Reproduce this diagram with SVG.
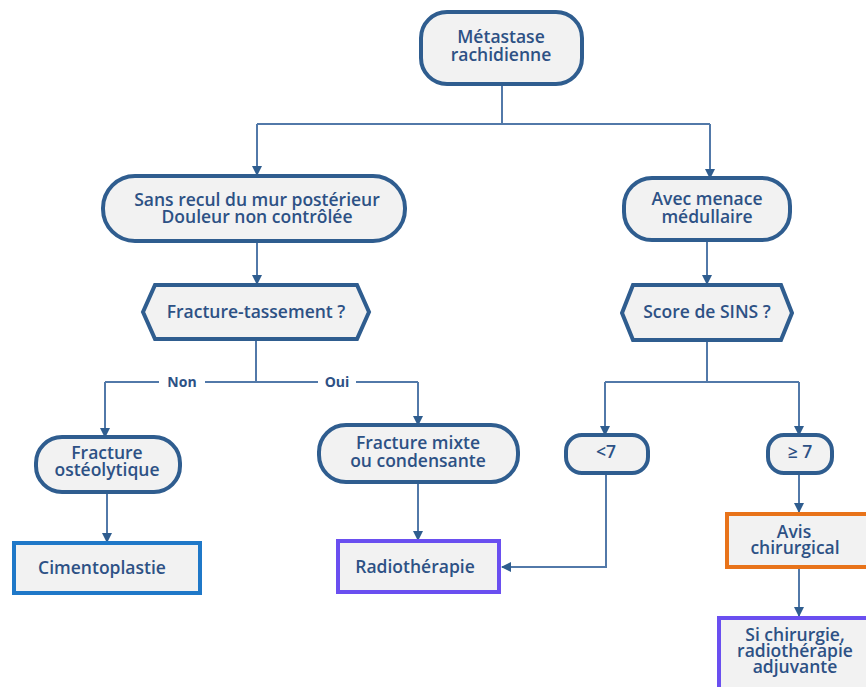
<svg xmlns="http://www.w3.org/2000/svg" width="866" height="687" viewBox="0 0 866 687">
<defs>
<marker id="arr" viewBox="0 0 10 10" refX="9" refY="5" markerWidth="10" markerHeight="10" markerUnits="userSpaceOnUse" orient="auto">
<path d="M0,0 L10,5 L0,10 Z" fill="#2f5d8f"/>
</marker>
<style>
.n{fill:#f2f2f2;stroke:#2f5d8f;stroke-width:4}
.t{font-family:"Open Sans","Liberation Sans",sans-serif;font-weight:600;font-size:17.5px;fill:#2d5185;text-anchor:middle}
.c{fill:none;stroke:#5279a9;stroke-width:2}
.ca{fill:none;stroke:#5279a9;stroke-width:2;marker-end:url(#arr)}
.lb{font-family:"Open Sans","Liberation Sans",sans-serif;font-weight:bold;font-size:14px;fill:#2d5185;text-anchor:middle}
</style>
</defs>
<rect width="866" height="687" fill="#ffffff"/>
<g id="connectors">
<path class="c" d="M502,85 V124 M257,124 H710"/>
<path class="ca" d="M257,124 V175"/>
<path class="ca" d="M710,124 V178"/>
<path class="ca" d="M257,242 V284"/>
<path class="ca" d="M707,240 V284"/>
<path class="c" d="M256,340 V382 M105,382 H418"/>
<path class="ca" d="M105,382 V437"/>
<path class="ca" d="M418,382 V425"/>
<path class="c" d="M707,341 V382 M605,382 H799"/>
<path class="ca" d="M605,382 V435"/>
<path class="ca" d="M799,382 V435"/>
<path class="ca" d="M107,492 V542"/>
<path class="ca" d="M418,482 V540"/>
<path class="ca" d="M606,473 V567 H502"/>
<path class="ca" d="M799,473 V512"/>
<path class="ca" d="M799,568 V616"/>
<rect x="159" y="373" width="46" height="18" fill="#ffffff"/>
<rect x="318" y="373" width="38" height="18" fill="#ffffff"/>
<text class="lb" x="182" y="387">Non</text>
<text class="lb" x="337" y="387">Oui</text>
</g>
<g id="n-metastase">
<rect class="n" x="421" y="12" width="161" height="72" rx="26"/>
<text class="t" x="501" y="43">Métastase</text>
<text class="t" x="501" y="61">rachidienne</text>
</g>
<g id="n-sansrecul">
<rect class="n" x="103" y="176" width="302" height="65" rx="32"/>
<text class="t" x="257" y="206">Sans recul du mur postérieur</text>
<text class="t" x="257" y="223">Douleur non contrôlée</text>
</g>
<g id="n-menace">
<rect class="n" x="624" y="178" width="166" height="62" rx="28"/>
<text class="t" x="707" y="205">Avec menace</text>
<text class="t" x="707" y="223">médullaire</text>
</g>
<g id="n-fracture">
<polygon class="n" points="155,285 357,285 369,312 357,339 155,339 143,312"/>
<text class="t" x="256" y="318">Fracture-tassement ?</text>
</g>
<g id="n-sins">
<polygon class="n" points="633,285 781,285 792,313 781,340 633,340 622,313"/>
<text class="t" x="707" y="318">Score de SINS ?</text>
</g>
<g id="n-osteo">
<rect class="n" x="36" y="437" width="144" height="55" rx="26"/>
<text class="t" x="107" y="459">Fracture</text>
<text class="t" x="107" y="476">ostéolytique</text>
</g>
<g id="n-mixte">
<rect class="n" x="319" y="425" width="199" height="57" rx="27"/>
<text class="t" x="418" y="449">Fracture mixte</text>
<text class="t" x="418" y="467">ou condensante</text>
</g>
<g id="n-inf7">
<rect class="n" x="566" y="435" width="82" height="38" rx="16"/>
<text class="t" x="606" y="458">&lt;7</text>
</g>
<g id="n-sup7">
<rect class="n" x="768" y="435" width="64" height="38" rx="16"/>
<text class="t" x="800" y="458">≥ 7</text>
</g>
<g id="n-ciment">
<rect x="14" y="543" width="186" height="50" fill="#f2f2f2" stroke="#1f78c8" stroke-width="4"/>
<text class="t" x="102" y="574">Cimentoplastie</text>
</g>
<g id="n-radio">
<rect x="338" y="541" width="161" height="51" fill="#f2f2f2" stroke="#6a4ff0" stroke-width="4"/>
<text class="t" x="415" y="573">Radiothérapie</text>
</g>
<g id="n-avis">
<rect x="727" y="514" width="150" height="53" fill="#f2f2f2" stroke="#e8731a" stroke-width="4"/>
<text class="t" x="794" y="538">Avis</text>
<text class="t" x="795" y="554">chirurgical</text>
</g>
<g id="n-sichir">
<rect x="719" y="618" width="160" height="80" fill="#f2f2f2" stroke="#6a4ff0" stroke-width="4"/>
<text class="t" x="795" y="641">Si chirurgie,</text>
<text class="t" x="795" y="657">radiothérapie</text>
<text class="t" x="795" y="673">adjuvante</text>
</g>
</svg>
